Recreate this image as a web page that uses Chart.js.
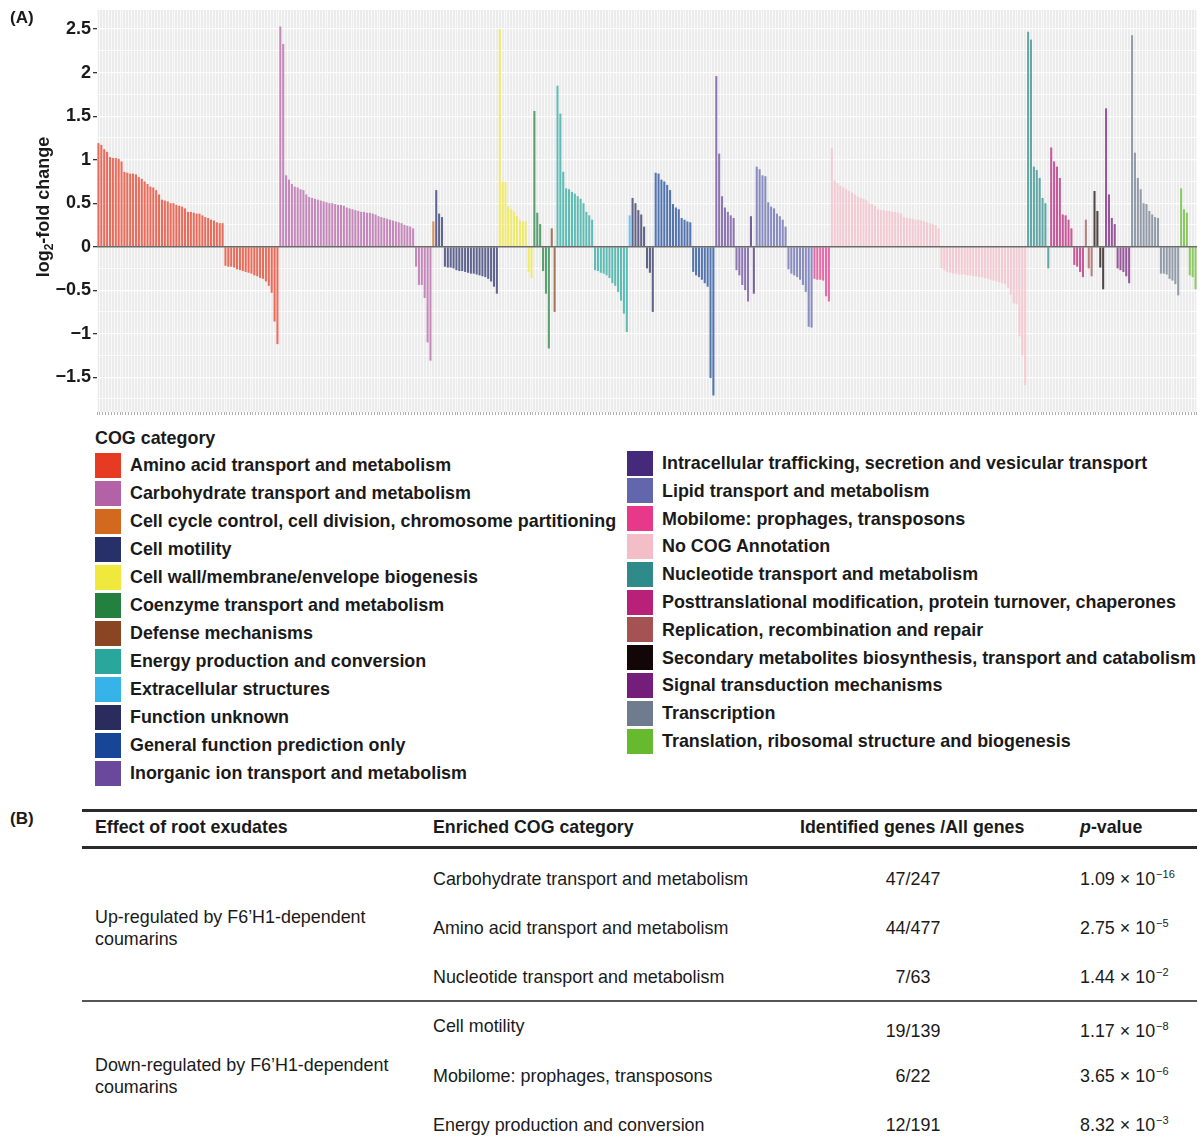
<!DOCTYPE html>
<html>
<head>
<meta charset="utf-8">
<script src="https://cdn.jsdelivr.net/npm/chart.js@4.4.1/dist/chart.umd.min.js"></script>
<style>
body{margin:0;background:#fff;font-family:"Liberation Sans",Arial,sans-serif;color:#1a1a1a}
#wrap{position:relative;width:1203px;height:1148px;overflow:hidden}
.abs{position:absolute;white-space:nowrap}
.panel{font-weight:bold;font-size:17px;line-height:20px}
.sw{position:absolute;width:26px;height:25px}
.leg{font-size:17.9px;font-weight:bold;line-height:26px;height:26px}
.rule{position:absolute;left:82px;width:1115px;background:#2b2b2b}
.th{font-weight:bold;font-size:17.8px;line-height:22px}
.td{font-size:17.9px;line-height:22px}
sup{font-size:11px;vertical-align:0;position:relative;top:-7px;margin-left:1px}
</style>
</head>
<body>
<div id="wrap">
  <canvas id="grafico" width="1203" height="420" style="position:absolute;left:0;top:0"></canvas>
  <div class="abs panel" style="left:10px;top:8px">(A)</div>
  <div id="leyenda"></div>
  <div class="abs panel" style="left:10px;top:809px">(B)</div>
  <div id="tabla"></div>
</div>
<script>
// COG categories, legend order
const categories = [
  "Amino acid transport and metabolism",
  "Carbohydrate transport and metabolism",
  "Cell cycle control, cell division, chromosome partitioning",
  "Cell motility",
  "Cell wall/membrane/envelope biogenesis",
  "Coenzyme transport and metabolism",
  "Defense mechanisms",
  "Energy production and conversion",
  "Extracellular structures",
  "Function unknown",
  "General function prediction only",
  "Inorganic ion transport and metabolism",
  "Intracellular trafficking, secretion and vesicular transport",
  "Lipid transport and metabolism",
  "Mobilome: prophages, transposons",
  "No COG Annotation",
  "Nucleotide transport and metabolism",
  "Posttranslational modification, protein turnover, chaperones",
  "Replication, recombination and repair",
  "Secondary metabolites biosynthesis, transport and catabolism",
  "Signal transduction mechanisms",
  "Transcription",
  "Translation, ribosomal structure and biogenesis"
];
const categoryColors = [
  "#e63a22", "#b462a6", "#d2691f", "#28306a", "#f0e83c", "#23803f",
  "#8a4623", "#2aa79c", "#36b4ea", "#2b2c5e", "#174597", "#6a489c",
  "#45297a", "#6166ad", "#e8388a", "#f4bec8", "#2e8b8a", "#b82079",
  "#a55252", "#120606", "#751d7b", "#6f7c8d", "#67b92e"
];

// log2-fold change per gene, in plotted order for each category
const aminoAcid = [1.19, 1.17, 1.12, 1.09, 1.03, 1.02, 1.02, 1.01, 0.98, 0.86, 0.85, 0.84, 0.84, 0.83, 0.80,
  0.78, 0.75, 0.72, 0.69, 0.68, 0.65, 0.60, 0.54, 0.53, 0.52, 0.50, 0.50, 0.48, 0.47, 0.46, 0.44, 0.40, 0.40,
  0.39, 0.38, 0.38, 0.36, 0.34, 0.33, 0.31, 0.30, 0.28, 0.27, 0.27,
  -0.22, -0.23, -0.23, -0.24, -0.26, -0.27, -0.28, -0.29, -0.30, -0.31, -0.33, -0.34, -0.36, -0.37, -0.40,
  -0.45, -0.53, -0.86, -1.12];
const carbohydrate = [2.53, 2.33, 0.82, 0.77, 0.72, 0.69, 0.68, 0.66, 0.65, 0.60, 0.57, 0.56, 0.55, 0.54, 0.53,
  0.52, 0.51, 0.50, 0.50, 0.49, 0.48, 0.48, 0.47, 0.45, 0.44, 0.43, 0.42, 0.41, 0.40, 0.40, 0.39, 0.39, 0.38,
  0.37, 0.35, 0.34, 0.33, 0.32, 0.31, 0.30, 0.29, 0.28, 0.27, 0.25, 0.24, 0.23, 0.21,
  -0.23, -0.44, -0.44, -0.59, -1.10, -1.31];
const cellCycle = [0.29];
const cellMotility = [0.65, 0.38, 0.34,
  -0.23, -0.24, -0.24, -0.25, -0.27, -0.28, -0.28, -0.29, -0.30, -0.31, -0.31, -0.32, -0.33, -0.34, -0.35,
  -0.37, -0.40, -0.46, -0.54];
const cellWall = [2.50, 0.75, 0.74, 0.46, 0.43, 0.40, 0.35, 0.30, 0.29, 0.29, -0.29, -0.36];
const coenzyme = [1.56, 0.39, 0.26, -0.28, -0.54, -1.17];
const defense = [0.21, -0.75];
const energy = [1.85, 1.53, 0.86, 0.67, 0.66, 0.63, 0.61, 0.58, 0.55, 0.50, 0.40, 0.36, 0.31,
  -0.27, -0.28, -0.30, -0.31, -0.33, -0.36, -0.42, -0.45, -0.52, -0.62, -0.77, -0.98];
const extracellular = [0.36];
const functionUnknown = [0.56, 0.50, 0.42, 0.37, 0.23, -0.25, -0.30, -0.75];
const generalFunction = [0.85, 0.84, 0.77, 0.75, 0.71, 0.65, 0.49, 0.45, 0.43, 0.33, 0.31, 0.29, 0.28,
  -0.29, -0.33, -0.35, -0.38, -0.42, -0.46, -1.51, -1.71];
const inorganicIon = [1.96, 1.07, 0.58, 0.45, 0.40, 0.36, 0.33, -0.27, -0.33, -0.44, -0.50, -0.63];
const intracellular = [0.35, -0.54];
const lipid = [0.92, 0.89, 0.82, 0.81, 0.51, 0.46, 0.44, 0.38, 0.35, 0.31, 0.23,
  -0.26, -0.31, -0.33, -0.35, -0.38, -0.44, -0.52, -0.92, -0.93];
const mobilome = [-0.37, -0.38, -0.38, -0.39, -0.57, -0.63];
const noCog = [1.13, 0.76, 0.73, 0.70, 0.68, 0.66, 0.64, 0.62, 0.60, 0.58, 0.56, 0.55, 0.53, 0.50, 0.49,
  0.47, 0.43, 0.42, 0.42, 0.41, 0.41, 0.40, 0.40, 0.39, 0.38, 0.34, 0.33, 0.33, 0.32, 0.31, 0.31, 0.30, 0.29,
  0.28, 0.27, 0.26, 0.25, 0.21,
  -0.25, -0.27, -0.29, -0.30, -0.31, -0.31, -0.32, -0.32, -0.32, -0.33, -0.33, -0.34, -0.34, -0.35, -0.35,
  -0.36, -0.37, -0.38, -0.39, -0.40, -0.41, -0.42, -0.43, -0.47, -0.55, -0.65, -0.66, -1.03, -1.25, -1.59];
const nucleotide = [2.47, 2.38, 0.92, 0.88, 0.79, 0.56, 0.50, -0.25];
const posttranslational = [1.14, 0.98, 0.92, 0.79, 0.37, 0.36, 0.31, 0.21, -0.21, -0.23, -0.29, -0.35];
const replication = [0.31, -0.25, -0.34];
const secondaryMet = [0.64, 0.41, -0.24, -0.49];
const signalTrans = [1.59, 0.60, 0.33, 0.26, -0.25, -0.27, -0.29, -0.34, -0.42];
const transcription = [2.43, 1.08, 0.79, 0.66, 0.50, 0.49, 0.41, 0.37, 0.34, 0.33,
  -0.31, -0.31, -0.32, -0.37, -0.39, -0.43, -0.56];
const translation = [0.67, 0.43, 0.39, -0.33, -0.35, -0.49];

const categoryValues = [aminoAcid, carbohydrate, cellCycle, cellMotility, cellWall, coenzyme, defense,
  energy, extracellular, functionUnknown, generalFunction, inorganicIon, intracellular, lipid, mobilome,
  noCog, nucleotide, posttranslational, replication, secondaryMet, signalTrans, transcription, translation];

// y axis
const yTickValues = [-1.5, -1, -0.5, 0, 0.5, 1, 1.5, 2, 2.5];
const yTickLabels = ["\u22121.5", "\u22121", "\u22120.5", "0", "0.5", "1", "1.5", "2", "2.5"];

// table (B)
const effectGroups = ["Up-regulated by F6\u2019H1-dependent coumarins", "Down-regulated by F6\u2019H1-dependent coumarins"];
const enrichedCategories = ["Carbohydrate transport and metabolism", "Amino acid transport and metabolism",
  "Nucleotide transport and metabolism", "Cell motility", "Mobilome: prophages, transposons",
  "Energy production and conversion"];
const geneCounts = ["47/247", "44/477", "7/63", "19/139", "6/22", "12/191"];
const pMantissa = ["1.09", "2.75", "1.44", "1.17", "3.65", "8.32"];
const pExponent = ["16", "5", "2", "8", "6", "3"];

// ---- build bar data
const etiquetas = [], valores = [], colores = [];
categoryValues.forEach((serie, ci) => {
  serie.forEach((v, k) => {
    etiquetas.push(categories[ci] + " " + (k + 1));
    valores.push(v);
    colores.push(categoryColors[ci] + "b8");
  });
});

const FONT = '"Liberation Sans", Arial, sans-serif';
const esMayor = v => yTickValues.some(t => Math.abs(t - v) < 1e-9);

const fondo = {
  id: "fondo",
  beforeDraw(chart) {
    const a = chart.chartArea, c = chart.ctx;
    c.save();
    c.fillStyle = "#ebebeb";
    c.fillRect(a.left, a.top, a.right - a.left, a.bottom - a.top);
    c.restore();
  }
};
const lineaCero = {
  id: "lineaCero",
  afterDatasetsDraw(chart) {
    const a = chart.chartArea, c = chart.ctx;
    const y = chart.scales.y.getPixelForValue(0);
    c.save();
    c.strokeStyle = "#6b6b6b";
    c.lineWidth = 1.5;
    c.beginPath();
    c.moveTo(a.left, y);
    c.lineTo(a.right, y);
    c.stroke();
    c.restore();
  }
};
const tituloY = {
  id: "tituloY",
  afterDraw(chart) {
    const c = chart.ctx;
    const grande = "bold 18px " + FONT, chico = "bold 12px " + FONT;
    c.save();
    c.translate(44, 207);
    c.rotate(-Math.PI / 2);
    c.fillStyle = "#1a1a1a";
    c.textBaseline = "middle";
    c.font = grande;
    const w1 = c.measureText("log").width, w3 = c.measureText("-fold change").width;
    c.font = chico;
    const w2 = c.measureText("2").width;
    let x = -(w1 + w2 + w3) / 2;
    c.font = grande; c.fillText("log", x, 0); x += w1;
    c.font = chico; c.fillText("2", x, 6); x += w2;
    c.font = grande; c.fillText("-fold change", x, 0);
    c.restore();
  }
};

const migrafico = document.getElementById("grafico").getContext("2d");
const grafico = new Chart(migrafico, {
  type: "bar",
  data: {
    labels: etiquetas,
    datasets: [{
      data: valores,
      backgroundColor: colores,
      borderWidth: 0,
      barPercentage: 0.72,
      categoryPercentage: 1
    }]
  },
  options: {
    responsive: false,
    animation: false,
    devicePixelRatio: 1,
    layout: { padding: { top: 10, right: 6, left: 0, bottom: 0 } },
    plugins: { legend: { display: false }, tooltip: { enabled: false } },
    scales: {
      x: {
        grid: { color: "rgba(255,255,255,0.85)", lineWidth: 0.8, tickColor: "#9a9a9a", tickLength: 3, offset: true },
        border: { display: false },
        ticks: { display: false, autoSkip: false },
        afterFit(s) { s.height = 8; s.paddingLeft = 0; s.paddingRight = 0; }
      },
      y: {
        min: -1.9,
        max: 2.72,
        afterBuildTicks(s) {
          const t = [];
          for (let v = -1.75; v <= 2.5 + 1e-9; v += 0.25) t.push({ value: Math.round(v * 100) / 100 });
          s.ticks = t;
        },
        grid: {
          color: "#ffffff",
          lineWidth: c => esMayor(c.tick.value) ? 1.3 : 0.8,
          tickLength: 4,
          tickColor: c => esMayor(c.tick.value) ? "#333333" : "rgba(0,0,0,0)"
        },
        border: { display: false },
        ticks: {
          autoSkip: false,
          padding: 2,
          color: "#1a1a1a",
          font: { family: FONT, size: 18, weight: "bold" },
          callback: v => {
            const i = yTickValues.findIndex(t => Math.abs(t - v) < 1e-9);
            return i < 0 ? "" : yTickLabels[i];
          }
        },
        afterFit(s) { s.width = 97; s.paddingTop = 0; s.paddingBottom = 0; }
      }
    }
  },
  plugins: [fondo, lineaCero, tituloY]
});

// ---- legend
const leyenda = document.getElementById("leyenda");
let html = '<div class="abs leg" style="left:95px;top:425px">COG category</div>';
categories.forEach((nombre, i) => {
  const col = i < 12 ? 0 : 1;
  const r = col ? i - 12 : i;
  const cy = col ? 463 + 27.8 * r : 465 + 28 * r;
  const sx = col ? 627 : 95, tx = col ? 662 : 130;
  html += `<div class="sw" style="left:${sx}px;top:${cy - 12.5}px;background:${categoryColors[i]}"></div>`;
  html += `<div class="abs leg" style="left:${tx}px;top:${cy - 13}px">${nombre}</div>`;
});
leyenda.innerHTML = html;

// ---- table
const tabla = document.getElementById("tabla");
let t = "";
t += '<div class="rule" style="top:809px;height:2.5px"></div>';
t += '<div class="rule" style="top:846px;height:2.5px"></div>';
t += '<div class="rule" style="top:1000px;height:1.5px;background:#555"></div>';
t += '<div class="abs th" style="left:95px;top:816px">Effect of root exudates</div>';
t += '<div class="abs th" style="left:433px;top:816px">Enriched COG category</div>';
t += '<div class="abs th" style="left:800px;top:816px">Identified genes /All genes</div>';
t += '<div class="abs th" style="left:1080px;top:816px"><i>p</i>-value</div>';
const filasY = [879, 928, 977, 1031, 1076, 1125];
const grupoY = [928, 1076];
effectGroups.forEach((g, i) => {
  t += `<div class="abs td" style="left:95px;top:${grupoY[i] - 22}px;white-space:normal;width:310px">${g}</div>`;
});
enrichedCategories.forEach((c, i) => {
  const y = filasY[i] - 11;
  const yc = i === 3 ? y - 5 : y;
  t += `<div class="abs td" style="left:433px;top:${yc}px">${c}</div>`;
  t += `<div class="abs td" style="left:813px;width:200px;text-align:center;top:${y}px">${geneCounts[i]}</div>`;
  t += `<div class="abs td" style="left:1080px;top:${y}px">${pMantissa[i]} \u00d7 10<sup>\u2212${pExponent[i]}</sup></div>`;
});
tabla.innerHTML = t;
</script>
</body>
</html>
